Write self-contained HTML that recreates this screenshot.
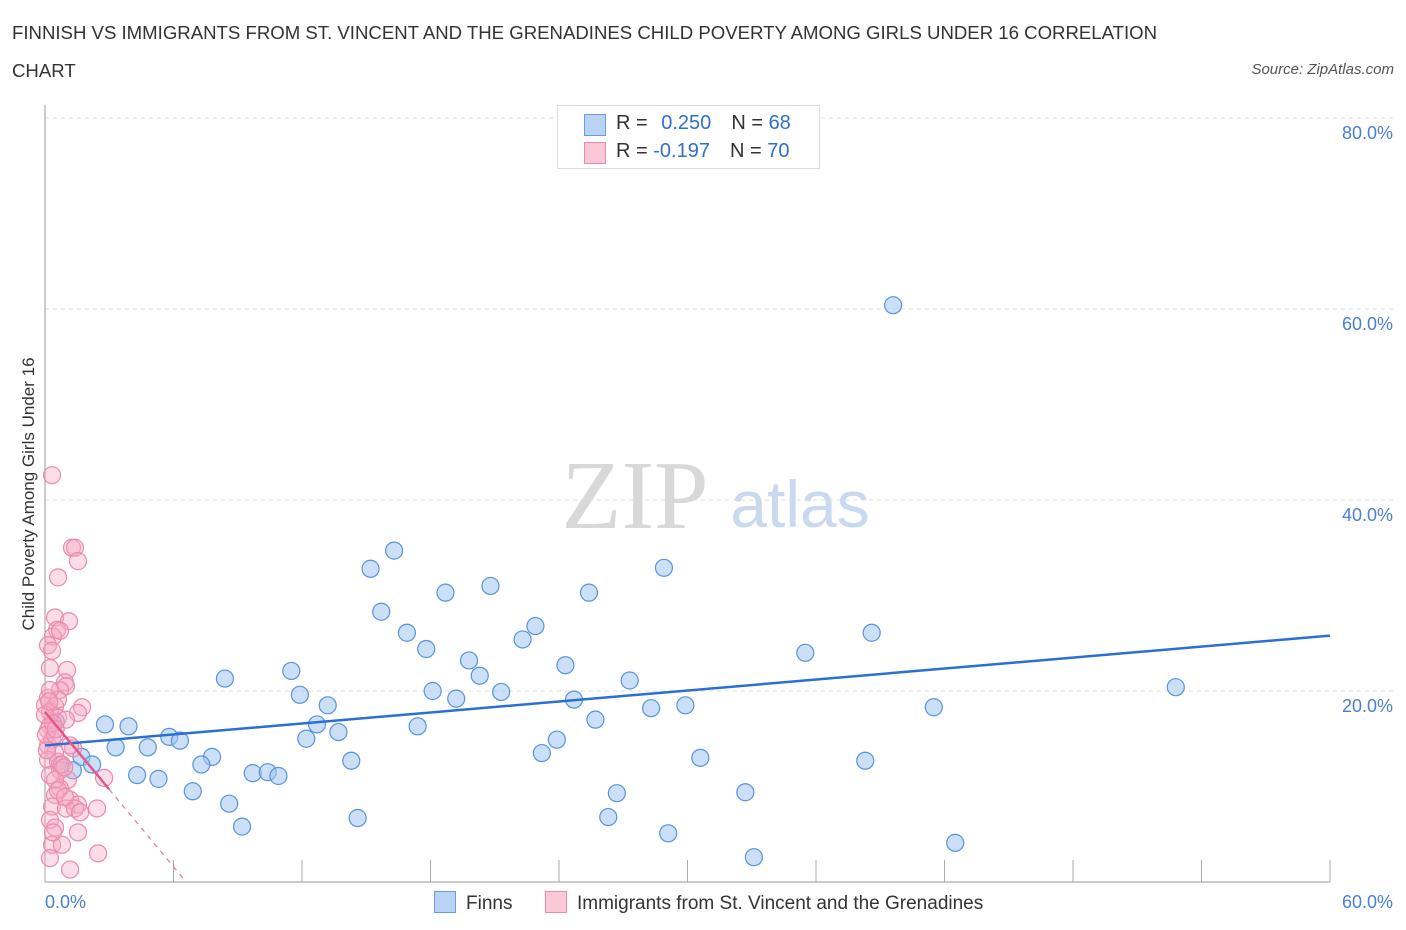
<!DOCTYPE html>
<html><head><meta charset="utf-8"><style>
body{margin:0;background:#fff;font-family:"Liberation Sans",sans-serif;}
#wrap{position:relative;width:1406px;height:930px;overflow:hidden}
.t{position:absolute;white-space:nowrap}
</style></head><body>
<div id="wrap">
<div class="t" style="left:12px;top:14px;font-size:18.6px;color:#333;line-height:38px">FINNISH VS IMMIGRANTS FROM ST. VINCENT AND THE GRENADINES CHILD POVERTY AMONG GIRLS UNDER 16 CORRELATION<br>CHART</div>
<div class="t" style="right:12px;top:61px;font-size:15px;color:#555;font-style:italic">Source: ZipAtlas.com</div>
<svg id="svg" width="1406" height="930" style="position:absolute;left:0;top:0"></svg>
</div>
<script>
const blueX=[39.6,16.3,15.2,20.8,18.7,25.4,28.9,15.7,16.9,22.9,22.3,38.6,17.8,35.5,19.8,24.3,20.3,11.5,8.4,27.3,52.8,18.1,21.3,11.9,19.2,24.7,13.2,29.9,28.3,41.5,25.7,12.7,17.4,2.8,3.9,13.7,5.8,6.3,12.2,23.9,3.3,4.8,23.2,1.7,7.8,30.6,38.3,14.3,2.2,7.3,1.3,9.7,10.4,10.9,4.3,5.3,6.9,26.7,32.7,8.6,14.6,26.3,9.2,29.1,42.5,33.1,0.5,0.7];
const blueY=[60.4,34.7,32.8,31.0,30.3,30.3,32.9,28.3,26.1,26.8,25.4,26.1,24.4,24.0,23.2,22.7,21.6,22.1,21.3,21.1,20.4,20.0,19.9,19.6,19.2,19.1,18.5,18.5,18.2,18.3,17.0,16.5,16.3,16.5,16.3,15.7,15.2,14.8,15.0,14.9,14.1,14.1,13.5,13.1,13.1,13.0,12.7,12.7,12.3,12.3,11.7,11.4,11.5,11.1,11.2,10.8,9.5,9.3,9.4,8.2,6.7,6.8,5.8,5.1,4.1,2.6,16.8,12.3];
const pinkX=[0.33,1.26,1.40,1.54,0.61,0.47,1.12,0.56,0.37,0.70,0.14,0.33,0.23,1.03,0.93,0.98,0.70,0.14,0.0,0.47,0.23,1.73,1.54,0.61,0.23,0.33,0.14,0.47,1.31,0.14,0.61,0.70,0.23,1.07,0.70,0.47,1.17,1.54,0.33,2.43,0.98,1.40,1.64,0.23,0.47,1.54,0.33,0.79,0.23,2.48,1.17,2.76,0.14,0.05,0.47,0.61,0.23,0.09,0.79,0.47,0.98,0.0,0.37,1.17,0.61,0.93,0.37,0.2,0.5,0.9];
const pinkY=[42.6,35.0,35.0,33.6,31.9,27.7,27.3,26.4,25.7,26.3,24.8,24.2,22.4,22.2,20.9,20.5,20.1,19.3,18.5,18.4,17.8,18.3,17.7,17.2,16.4,14.9,14.3,13.5,14.0,12.8,12.6,11.7,11.2,10.7,9.8,9.1,8.6,8.1,7.9,7.7,7.7,7.7,7.3,6.5,5.7,5.2,3.9,3.9,2.5,3.0,1.3,10.9,15.9,15.4,15.4,19.1,20.1,13.8,12.3,10.7,17.0,17.5,16.6,14.3,9.6,8.9,5.2,18.9,16.0,12.0];
const blueTrend=[14.3,25.8];
const pinkTrend=[17.8,-2.7];
const yTicks=[20,40,60,80];
const xTicks=[0,6,12,18,24,30,36,42,48,54,60];
const X0=45,X1=1330,Y0=882,Y1=118;
const sx=v=>X0+(X1-X0)*v/60, sy=v=>Y0-(Y0-Y1)*v/80;
const svg=document.getElementById('svg');const NS='http://www.w3.org/2000/svg';
function mk(tag,attrs,parent){const e=document.createElementNS(NS,tag);for(const k in attrs)e.setAttribute(k,attrs[k]);(parent||svg).appendChild(e);return e;}
let w=mk('text',{x:635,y:528,'font-size':98,'font-family':'Liberation Serif,serif',fill:'#d8d8d8','text-anchor':'middle'});w.textContent='ZIP';


w=mk('text',{x:800,y:527,'font-size':66,'font-family':'Liberation Sans,sans-serif',fill:'#c8d9f0','text-anchor':'middle'});w.textContent='atlas';


yTicks.forEach(v=>{const l=mk('line',{x1:X0,x2:1393,y1:sy(v),y2:sy(v),stroke:'#ddd','stroke-dasharray':'4,4'});


const t=mk('text',{x:1393,y:sy(v)+21,'text-anchor':'end','font-size':18,fill:'#4a7fd6'});t.textContent=v.toFixed(1)+'%';

});
mk('line',{x1:X0,x2:X0,y1:105,y2:Y0,stroke:'#999'});
mk('line',{x1:X0,x2:X1,y1:Y0,y2:Y0,stroke:'#999'});
xTicks.forEach(v=>{const l=mk('line',{x1:sx(v),x2:sx(v),y1:Y0,y2:Y0-22,stroke:'#aaa'});

});
let t=mk('text',{x:45,y:908,'font-size':18,fill:'#4a7fd6'});t.textContent='0.0%';

t=mk('text',{x:1393,y:908,'font-size':18,fill:'#4a7fd6','text-anchor':'end'});t.textContent='60.0%';

t=mk('text',{x:0,y:0,'font-size':17,fill:'#333','text-anchor':'middle',transform:'translate(34,494) rotate(-90)'});t.textContent='Child Poverty Among Girls Under 16';

blueX.forEach((x,i)=>{const c=mk('circle',{cx:sx(x),cy:sy(blueY[i]),r:8.5,fill:'rgba(160,196,240,0.55)',stroke:'#5a93dc','stroke-width':1.2});

});
pinkX.forEach((x,i)=>{const c=mk('circle',{cx:sx(x),cy:sy(pinkY[i]),r:8.5,fill:'rgba(246,170,195,0.4)',stroke:'#ec8aab','stroke-width':1.2});

});
let ln=mk('line',{x1:sx(0),y1:sy(blueTrend[0]),x2:sx(60),y2:sy(blueTrend[1]),stroke:'#2a6fd4','stroke-width':2.5});

const pe=-pinkTrend[0]/pinkTrend[1];
ln=mk('line',{x1:sx(3),y1:sy(pinkTrend[0]+3*pinkTrend[1]),x2:sx(pe),y2:sy(0),stroke:'#e5789c','stroke-width':1.2,'stroke-dasharray':'5,5'});

ln=mk('line',{x1:sx(0),y1:sy(pinkTrend[0]),x2:sx(3),y2:sy(pinkTrend[0]+3*pinkTrend[1]),stroke:'#e0588a','stroke-width':2.5});

</script>
<div class="t" style="left:557px;top:105px;width:261px;height:62px;border:1px solid #ddd;background:#fff;font-size:20px;color:#333">
<div style="position:absolute;left:26px;top:8px;width:20px;height:20px;background:#b9d3f5;border:1px solid #6a9de0"></div>
<div style="position:absolute;left:58px;top:6px">R = <span style="color:#2f6fd0;margin-left:8px">0.250</span><span style="margin-left:20px">N = </span><span style="color:#2f6fd0">68</span></div>
<div style="position:absolute;left:26px;top:36px;width:20px;height:20px;background:#fbc8d7;border:1px solid #ec8aab"></div>
<div style="position:absolute;left:58px;top:34px">R = <span style="color:#2f6fd0">-0.197</span><span style="margin-left:20px">N = </span><span style="color:#2f6fd0">70</span></div>
</div>
<div class="t" style="left:434px;top:891px;font-size:19px;color:#333"><span style="display:inline-block;width:20px;height:20px;background:#b9d3f5;border:1px solid #6a9de0;vertical-align:-4px;margin-right:10px"></span>Finns</div>
<div class="t" style="left:545px;top:891px;font-size:19px;color:#333"><span style="display:inline-block;width:20px;height:20px;background:#fbc8d7;border:1px solid #ec8aab;vertical-align:-4px;margin-right:10px"></span>Immigrants from St. Vincent and the Grenadines</div>
</body></html>
